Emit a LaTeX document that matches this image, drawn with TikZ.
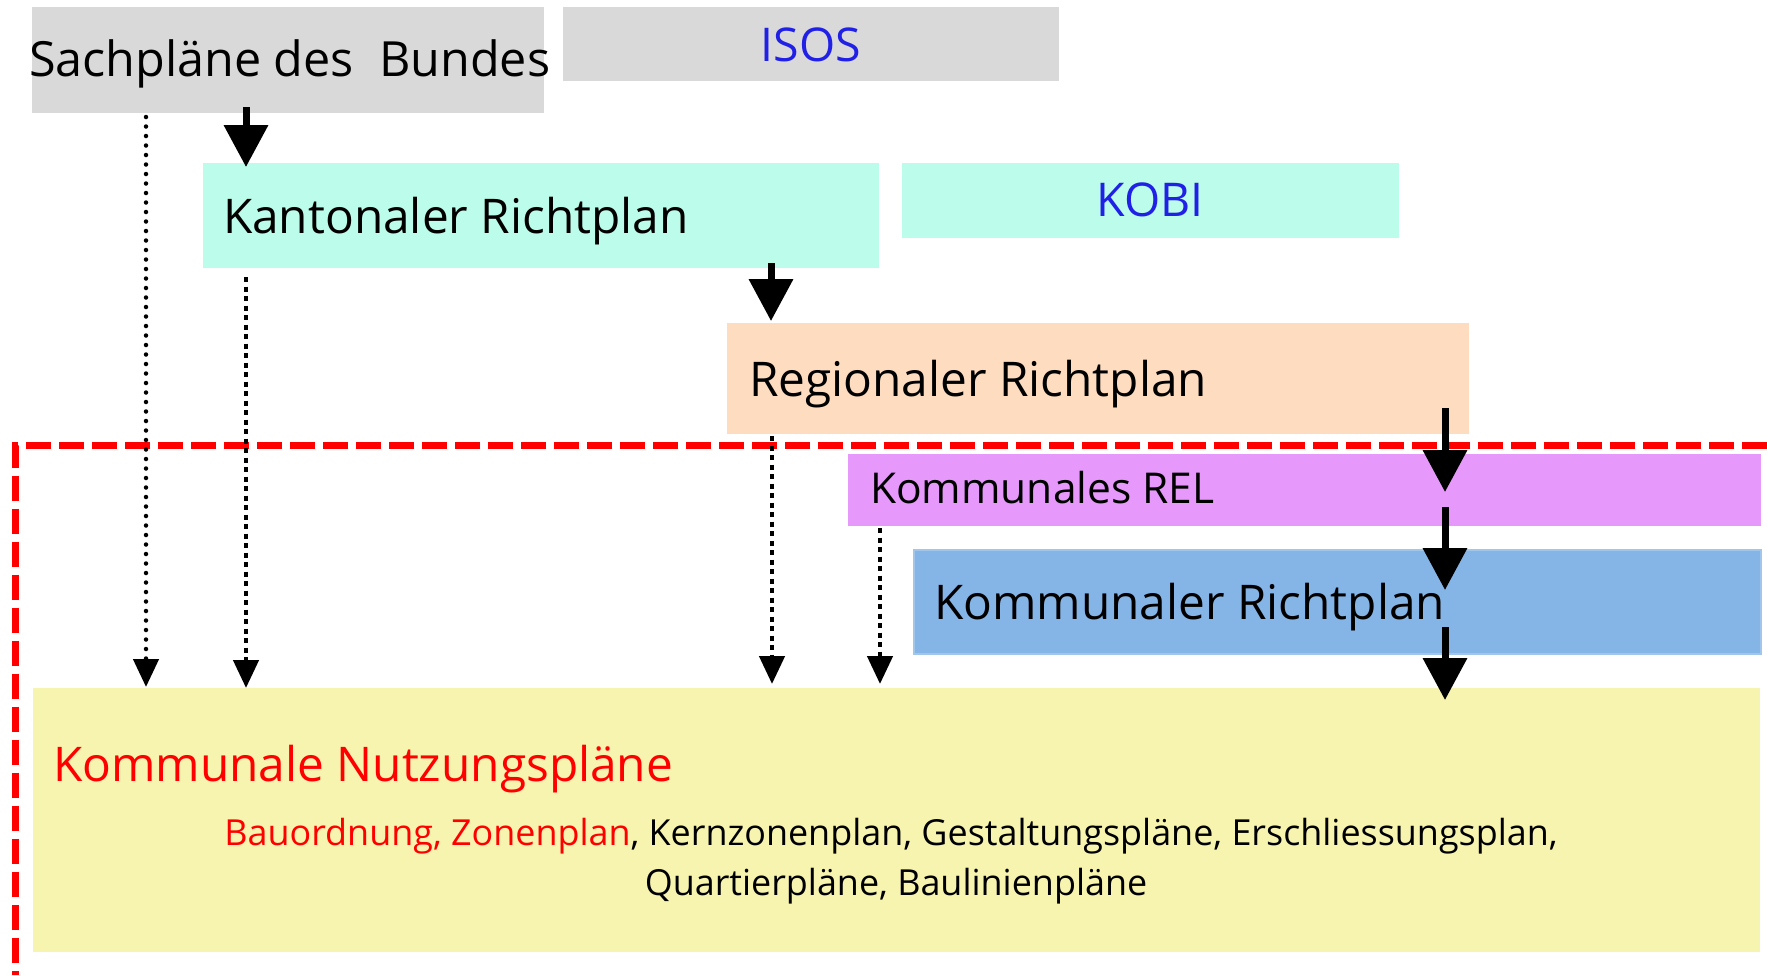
\documentclass[tikz,border=0pt]{standalone}
\usepackage{fontspec}
\setmainfont{Open Sans}
\usetikzlibrary{arrows.meta,calc}
\definecolor{cgray}{RGB}{217,217,217}
\definecolor{cmint}{RGB}{187,252,235}
\definecolor{cpeach}{RGB}{253,220,191}
\definecolor{cviolet}{RGB}{230,153,250}
\definecolor{cblue}{RGB}{133,180,230}
\definecolor{cblueb}{RGB}{160,198,236}
\definecolor{cyellow}{RGB}{247,244,175}
\definecolor{tblue}{RGB}{32,32,230}
\definecolor{tred}{RGB}{255,0,0}
\begin{document}
\begin{tikzpicture}[x=1pt,y=-1pt,
  box/.style={rectangle,inner sep=0pt,outer sep=0pt,anchor=north west,draw=none},
  big/.style={inner sep=0pt,outer sep=0pt,anchor=base west,font=\fontsize{47.8}{56}\selectfont},
  mid/.style={inner sep=0pt,outer sep=0pt,anchor=base west,font=\fontsize{42.5}{50}\selectfont},
  ctr/.style={inner sep=0pt,outer sep=0pt,anchor=base,font=\fontsize{46.5}{54}\selectfont,text=tblue},
  small/.style={inner sep=0pt,outer sep=0pt,anchor=base,font=\fontsize{35.9}{42}\selectfont},
  solidarr/.style={line width=7pt,-{Triangle[length=42pt,width=43pt]}},
  dotarr/.style={line width=4.5pt,dash pattern=on 0pt off 9.5pt,line cap=round,-{Triangle[length=28pt,width=25pt]}},
  dasharr/.style={line width=4.5pt,dash pattern=on 5pt off 4.5pt,-{Triangle[length=28pt,width=25pt]}},
  redframe/.style={draw=tred,line width=7pt,dash pattern=on 25pt off 8pt}
]
\useasboundingbox (0,0) rectangle (1767,975);
\fill[white] (0,0) rectangle (1767,975);

% boxes
\node[box,fill=cgray,minimum width=512pt,minimum height=106pt] (sach) at (32,7) {};
\node[box,fill=cgray,minimum width=496pt,minimum height=74pt] (isos) at (563,7) {};
\node[box,fill=cmint,minimum width=676pt,minimum height=105pt] (kant) at (203,163) {};
\node[box,fill=cmint,minimum width=497pt,minimum height=75pt] (kobi) at (902,163) {};
\node[box,fill=cpeach,minimum width=742pt,minimum height=111pt] (reg) at (727,323) {};
\node[box,fill=cviolet,minimum width=913pt,minimum height=72pt] (rel) at (848,454) {};
\node[box,fill=cblue,draw=cblueb,line width=2pt,minimum width=847pt,minimum height=104pt] (krp) at (914,550) {};
\node[box,fill=cyellow,minimum width=1727pt,minimum height=264pt] (knp) at (33,688) {};

% red dashed frame
\coordinate (fr) at (1767,445);
\coordinate (fc) at (15.5,445);
\coordinate (fb) at (15.5,975);
\draw[redframe] (fr) -- (fc) -- (fb);

% texts
\node[big,font=\fontsize{48.5}{56}\selectfont] (sachT) at (29,76) {Sachpläne des\ \ Bundes};
\node[ctr] (isosT) at (811,61) {ISOS};
\node[big] (kantT) at (223,233) {Kantonaler Richtplan};
\node[ctr] (kobiT) at (1150,216) {KOBI};
\node[big] (regT) at (749,396) {Regionaler Richtplan};
\node[mid] (relT) at (870,503) {Kommunales REL};
\node[big] (krpT) at (934,619) {Kommunaler Richtplan};
\node[big,text=tred] (knpT) at (53,781) {Kommunale Nutzungspläne};
\node[small] (sub1) at (891,845) {\textcolor{tred}{Bauordnung, Zonenplan}, Kernzonenplan, Gestaltungspläne, Erschliessungsplan,};
\node[small] (sub2) at (896,895) {Quartierpläne, Baulinienpläne};

% dotted / dashed connectors
\draw[dotarr] ($(sach.south west)+(114,4)$) -- ($(knp.north west)+(113,-1)$);
\draw[dasharr] ($(kant.south west)+(43,9)$) -- ($(knp.north west)+(213,0)$);
\draw[dasharr] ($(reg.south west)+(45,2)$) -- ($(knp.north west)+(739,-4)$);
\draw[dasharr] ($(rel.south west)+(32,2)$) -- ($(knp.north west)+(847,-4)$);

% solid connectors
\draw[solidarr] ($(sach.south west)+(214,-6)$) -- ($(kant.north west)+(43,4)$);
\draw[solidarr] ($(kant.south west)+(568,-5)$) -- ($(reg.north west)+(44,-2)$);
\draw[solidarr] ($(reg.south west)+(718,-26)$) -- ($(rel.north west)+(597,38)$);
\draw[solidarr] ($(rel.south west)+(597,-19)$) -- ($(krp.north west)+(531,40)$);
\draw[solidarr] ($(krp.south west)+(531,-27)$) -- ($(knp.north west)+(1412,12)$);
\end{tikzpicture}
\end{document}
